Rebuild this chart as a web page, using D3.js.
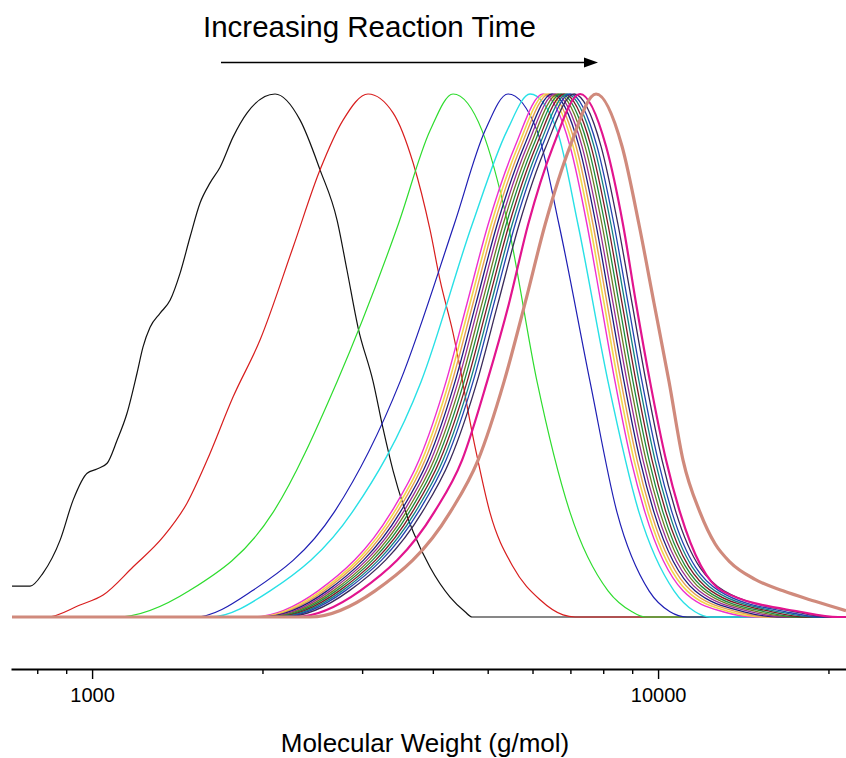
<!DOCTYPE html>
<html>
<head>
<meta charset="utf-8">
<script src="https://cdn.jsdelivr.net/npm/d3@7"></script>
<style>
body { margin: 0; background: #fff; }
</style>
</head>
<body>
<div id="chart"></div>
<script>
// molecular weight (g/mol) and normalised signal
var blackMw = [722, 777, 819, 878, 926, 980, 1020, 1063, 1107, 1153, 1201, 1230, 1266, 1319, 1374, 1431, 1490, 1552, 1616, 1683, 1775, 1879, 2105, 2331, 2528, 2709, 2821, 2950, 3137, 3267, 3402, 3544, 3692, 3955, 4290, 4560, 4692, 21480];
var blackH  = [0.059, 0.059, 0.084, 0.147, 0.224, 0.275, 0.283, 0.294, 0.338, 0.39, 0.467, 0.516, 0.554, 0.581, 0.606, 0.658, 0.727, 0.792, 0.83, 0.86, 0.918, 0.964, 1, 0.95, 0.855, 0.759, 0.663, 0.554, 0.45, 0.36, 0.28, 0.215, 0.163, 0.095, 0.038, 0.01, 0, 0];

var redMw = [722, 833, 952, 1046, 1182, 1335, 1472, 1597, 1775, 1981, 2265, 2528, 2776, 3073, 3402, 3692, 3955, 4119, 4343, 4750, 5048, 5543, 6187, 6794, 7133, 21480];
var redH  = [0, 0, 0.023, 0.042, 0.096, 0.153, 0.218, 0.3, 0.421, 0.53, 0.707, 0.855, 0.95, 1, 0.964, 0.868, 0.74, 0.644, 0.543, 0.325, 0.199, 0.096, 0.033, 0.004, 0, 0];

// early runs: MW at each of these signal levels
var levels = [0, 0, 0.05, 0.2, 0.45, 0.75, 0.93, 1, 0.93, 0.75, 0.45, 0.2, 0.05, 0.01, 0, 0];

var greenMw = [722, 1107, 1484, 2088, 2709, 3473, 3955, 4343, 4887, 5432, 6112, 6990, 8158, 8995, 9483, 21480];
var blueMw  = [722, 1521, 1918, 2676, 3501, 4361, 4947, 5432, 6112, 6684, 7582, 8462, 9639, 10498, 11250, 21480];
var cyanMw  = [722, 1616, 2063, 2880, 3813, 4692, 5410, 5940, 6630, 7221, 8158, 9254, 10670, 11622, 12354, 21480];

// later runs, on a finer set of levels
var bundleLevels = [0, 0, 0.05, 0.2, 0.3, 0.45, 0.6, 0.75, 0.9, 1, 0.9, 0.75, 0.6, 0.45, 0.3, 0.2, 0.05, 0.01, 0, 0];

var run6Mw  = [722, 1925, 2508, 3375, 3782, 4221, 4598, 5007, 5589, 6263, 6990, 7490, 7929, 8394, 8958, 9483, 11068, 13024, 15018, 21480];
var run7Mw  = [722, 1949, 2539, 3416, 3828, 4273, 4654, 5069, 5657, 6340, 7076, 7582, 8027, 8497, 9068, 9600, 11250, 13401, 15451, 21480];
var run8Mw  = [722, 1973, 2570, 3458, 3875, 4325, 4711, 5131, 5727, 6418, 7163, 7675, 8125, 8601, 9180, 9717, 11434, 13788, 15898, 21480];
var run9Mw  = [722, 1997, 2601, 3501, 3923, 4378, 4769, 5194, 5797, 6496, 7251, 7770, 8225, 8707, 9292, 9837, 11622, 14186, 16357, 21480];
var run10Mw = [722, 2021, 2633, 3544, 3971, 4432, 4827, 5258, 5868, 6576, 7339, 7865, 8326, 8814, 9406, 9958, 11813, 14596, 16830, 21480];
var run11Mw = [722, 2046, 2666, 3587, 4020, 4487, 4887, 5322, 5940, 6657, 7430, 7962, 8428, 8922, 9522, 10080, 12007, 15018, 17316, 21480];
var run12Mw = [722, 2071, 2698, 3631, 4069, 4542, 4947, 5388, 6013, 6739, 7521, 8059, 8532, 9031, 9639, 10204, 12204, 15451, 17816, 21480];
var run13Mw = [722, 2097, 2732, 3676, 4119, 4598, 5007, 5454, 6087, 6821, 7613, 8158, 8636, 9142, 9757, 10329, 12404, 15898, 18331, 21480];
var run14Mw = [722, 2123, 2765, 3721, 4170, 4654, 5069, 5521, 6162, 6905, 7707, 8258, 8742, 9255, 9877, 10456, 12608, 16357, 18861, 21480];
var run15Mw = [722, 2149, 2799, 3767, 4221, 4711, 5131, 5589, 6237, 6990, 7801, 8360, 8850, 9368, 9998, 10584, 12815, 16830, 19405, 21480];
var run16Mw = [722, 2184, 2845, 3828, 4290, 4788, 5215, 5680, 6340, 7105, 7929, 8497, 8995, 9522, 10162, 10757, 13077, 17458, 19965, 21480];
var run17Mw = [722, 2284, 2975, 4020, 4505, 4987, 5454, 5892, 6523, 7280, 8092, 8672, 9142, 9678, 10329, 10934, 12971, 17816, 20795, 21480];

// last run, broader tail
var run18Mw = [722, 2428, 3162, 4290, 4808, 5344, 5821, 6314, 6990, 7770, 8636, 9255, 9837, 10456, 11068, 11861, 12608, 13401, 14836, 16626, 18937, 21480];
var run18H  = [0, 0, 0.05, 0.2, 0.3, 0.45, 0.6, 0.75, 0.9, 1, 0.9, 0.75, 0.6, 0.45, 0.3, 0.2, 0.14, 0.105, 0.072, 0.05, 0.03, 0.012];

var xTicks = [800, 900, 1000, 2000, 3000, 4000, 5000, 6000, 7000, 8000, 9000, 10000, 20000];
var xLabels = [1000, 10000];

var W = 846, H = 758;
var font = "'Liberation Sans', Arial, sans-serif";

var svg = d3.select("#chart").append("svg")
    .attr("width", W)
    .attr("height", H);

var x = d3.scaleLog()
    .domain([719, 21480])
    .range([11, 846]);

var y = d3.scaleLinear()
    .domain([0, 1])
    .range([617, 94]);

function pairs(mw, h) {
  return mw.map(function(m, i) { return [m, h[i]]; });
}

var series = [
  {d: pairs(blackMw, blackH), c: "#111111", w: 1.2},
  {d: pairs(redMw, redH), c: "#D81E1E", w: 1.2},
  {d: pairs(greenMw, levels), c: "#2EDC2E", w: 1.2},
  {d: pairs(blueMw, levels), c: "#1E1EB4", w: 1.2},
  {d: pairs(cyanMw, levels), c: "#28E0E6", w: 1.4},
  {d: pairs(run6Mw, bundleLevels), c: "#EE30D0", w: 1.4},
  {d: pairs(run7Mw, bundleLevels), c: "#F2D64A", w: 1.6},
  {d: pairs(run8Mw, bundleLevels), c: "#E6A050", w: 1.4},
  {d: pairs(run9Mw, bundleLevels), c: "#1C1C7C", w: 1.3},
  {d: pairs(run10Mw, bundleLevels), c: "#9A2C92", w: 1.3},
  {d: pairs(run11Mw, bundleLevels), c: "#6E7A24", w: 1.3},
  {d: pairs(run12Mw, bundleLevels), c: "#1E8A3C", w: 1.3},
  {d: pairs(run13Mw, bundleLevels), c: "#7C1A24", w: 1.3},
  {d: pairs(run14Mw, bundleLevels), c: "#128282", w: 1.3},
  {d: pairs(run15Mw, bundleLevels), c: "#2442B0", w: 1.3},
  {d: pairs(run16Mw, bundleLevels), c: "#3A2A5A", w: 1.3},
  {d: pairs(run17Mw, bundleLevels), c: "#E2148E", w: 2.2},
  {d: pairs(run18Mw, run18H), c: "#D08A7C", w: 3.2}
];

var line = d3.line()
    .x(function(d) { return x(d[0]); })
    .y(function(d) { return y(d[1]); })
    .curve(d3.curveMonotoneX);

svg.append("g")
    .attr("class", "curves")
  .selectAll("path")
    .data(series)
  .enter().append("path")
    .attr("d", function(s) { return line(s.d); })
    .attr("fill", "none")
    .attr("stroke", function(s) { return s.c; })
    .attr("stroke-width", function(s) { return s.w; })
    .attr("stroke-linejoin", "round");

// x axis
var xAxis = d3.axisBottom(x)
    .tickValues(xTicks)
    .tickSize(5)
    .tickSizeOuter(0)
    .tickPadding(14)
    .tickFormat(function(d) { return xLabels.indexOf(d) >= 0 ? d : ""; });

var gx = svg.append("g")
    .attr("class", "x-axis")
    .attr("transform", "translate(0,669)")
    .call(xAxis);

gx.select(".domain")
    .attr("stroke", "#000")
    .attr("stroke-width", 2);

gx.selectAll(".tick line")
    .attr("stroke", "#000")
    .attr("stroke-width", 1.4)
    .attr("y2", function(d) { return xLabels.indexOf(d) >= 0 ? 10 : 5; });

gx.selectAll(".tick text")
    .attr("fill", "#000")
    .attr("font-family", font)
    .attr("font-size", 20);

svg.append("text")
    .attr("x", 425)
    .attr("y", 752)
    .attr("text-anchor", "middle")
    .attr("font-family", font)
    .attr("font-size", 26)
    .text("Molecular Weight (g/mol)");

// annotation on top
svg.append("text")
    .attr("x", 203)
    .attr("y", 37)
    .attr("font-family", font)
    .attr("font-size", 29.5)
    .text("Increasing Reaction Time");

svg.append("line")
    .attr("x1", 221)
    .attr("x2", 586)
    .attr("y1", 62.5)
    .attr("y2", 62.5)
    .attr("stroke", "#000")
    .attr("stroke-width", 1.5);

svg.append("path")
    .attr("d", "M584,57.5L598,62.5L584,67.5Z")
    .attr("fill", "#000");
</script>
</body>
</html>
